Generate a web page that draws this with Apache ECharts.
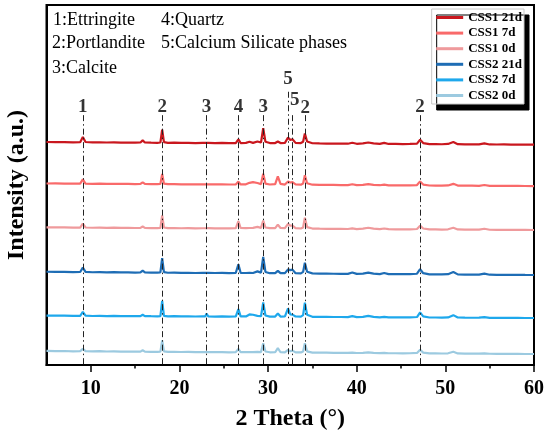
<!DOCTYPE html>
<html>
<head>
<meta charset="utf-8">
<script src="https://cdn.jsdelivr.net/npm/echarts@6/dist/echarts.min.js"></script>
<style>
  html, body { margin: 0; padding: 0; background: #fff; }
  #main { width: 550px; height: 434px; }
</style>
</head>
<body>
<div id="main"></div>
<script>
// 2 theta sampling points shared by every pattern
const twoTheta = [5, 6, 7, 8, 8.8, 9.1, 9.4, 10.2, 11, 11.8,
  12.6, 13.4, 14.2, 15, 15.6, 15.85, 16.1, 16.8, 17.5, 17.85,
  18.05, 18.25, 18.7, 19.4, 20.2, 21, 21.8, 22.6, 22.9, 23.05,
  23.25, 24, 24.8, 25.6, 26.35, 26.65, 26.9, 27.5, 27.9, 28.3,
  28.8, 29.2, 29.45, 29.7, 30.2, 30.8, 31.1, 31.4, 31.9, 32.25,
  32.5, 32.75, 33.1, 33.7, 33.95, 34.15, 34.4, 35, 35.8, 36.6,
  37.4, 38.2, 39, 39.5, 40, 40.7, 41.3, 41.9, 42.6, 43.1,
  43.6, 44.4, 45.2, 46, 46.8, 47.15, 47.5, 48.2, 48.9, 49.6,
  50.3, 50.9, 51.4, 52.2, 53, 53.8, 54.4, 55, 55.8, 56.6,
  57.4, 58.2, 59, 60];

// intensities (a.u.) above each pattern's stacking offset
const css1_21d = [0.75, 0.7, 0.72, 0.65, 0.7, 2.15, 0.75, 0.62, 0.68, 0.6,
  0.65, 0.58, 0.6, 0.55, 0.6, 1.2, 0.6, 0.55, 0.52, 0.6,
  4.2, 0.7, 0.5, 0.55, 0.48, 0.5, 0.45, 0.5, 0.5, 1.05,
  0.5, 0.45, 0.48, 0.42, 0.45, 1.5, 0.45, 0.5, 0.8, 0.5,
  0.9, 0.6, 4.6, 0.8, 0.45, 0.45, 0.9, 0.45, 0.5, 2.0,
  1.3, 1.5, 0.5, 0.45, 0.8, 3.1, 0.9, 0.4, 0.35, 0.32,
  0.3, 0.3, 0.27, 0.55, 0.25, 0.35, 0.6, 0.35, 0.22, 0.5,
  0.2, 0.2, 0.18, 0.2, 0.3, 1.35, 0.45, 0.15, 0.15, 0.12,
  0.2, 0.75, 0.15, 0.1, 0.08, 0.1, 0.35, 0.06, 0.05, 0.06,
  0.03, 0.02, 0.01, 0];
const css1_7d = [0.72, 0.74, 0.7, 0.68, 0.66, 1.85, 0.7, 0.64, 0.66, 0.62,
  0.63, 0.6, 0.62, 0.56, 0.58, 1.05, 0.58, 0.55, 0.54, 0.6,
  3.35, 0.66, 0.52, 0.52, 0.5, 0.48, 0.48, 0.5, 0.47, 0.98,
  0.5, 0.46, 0.45, 0.44, 0.46, 1.25, 0.45, 0.48, 0.9, 1.1,
  0.85, 0.55, 3.4, 0.7, 0.44, 0.55, 2.7, 0.6, 0.42, 1.3,
  1.0, 1.1, 0.45, 0.4, 0.7, 3.0, 0.8, 0.38, 0.35, 0.32,
  0.32, 0.28, 0.28, 0.5, 0.26, 0.34, 0.55, 0.32, 0.24, 0.4,
  0.22, 0.2, 0.2, 0.18, 0.28, 1.3, 0.42, 0.16, 0.14, 0.13,
  0.18, 0.62, 0.14, 0.1, 0.1, 0.08, 0.3, 0.06, 0.06, 0.05,
  0.04, 0.03, 0.02, 0];
const css1_0d = [0.74, 0.72, 0.73, 0.67, 0.68, 1.78, 0.7, 0.63, 0.68, 0.61,
  0.64, 0.6, 0.6, 0.56, 0.6, 0.98, 0.6, 0.54, 0.53, 0.6,
  4.05, 0.7, 0.5, 0.54, 0.49, 0.5, 0.46, 0.49, 0.48, 0.88,
  0.5, 0.46, 0.46, 0.43, 0.48, 2.45, 0.55, 0.5, 0.55, 0.6,
  0.85, 0.6, 2.65, 0.7, 0.5, 0.5, 1.5, 0.55, 0.5, 1.7,
  1.2, 1.2, 0.5, 0.42, 0.7, 3.4, 0.8, 0.4, 0.36, 0.33,
  0.3, 0.3, 0.28, 0.45, 0.26, 0.38, 0.62, 0.36, 0.24, 0.42,
  0.22, 0.2, 0.2, 0.2, 0.28, 1.2, 0.42, 0.15, 0.15, 0.13,
  0.2, 0.62, 0.15, 0.1, 0.09, 0.1, 0.35, 0.07, 0.05, 0.05,
  0.04, 0.02, 0.01, 0];
const css2_21d = [0.9, 0.86, 0.88, 0.8, 0.84, 2.05, 0.86, 0.76, 0.82, 0.74,
  0.78, 0.72, 0.74, 0.68, 0.72, 1.2, 0.72, 0.66, 0.64, 0.7,
  4.65, 0.78, 0.62, 0.66, 0.6, 0.62, 0.56, 0.6, 0.58, 1.08,
  0.6, 0.55, 0.57, 0.52, 0.55, 3.0, 0.6, 0.55, 0.6, 0.55,
  1.0, 0.65, 5.0, 0.85, 0.5, 0.5, 1.15, 0.5, 0.52, 1.55,
  1.35, 1.5, 0.5, 0.46, 0.85, 3.4, 0.9, 0.44, 0.4, 0.38,
  0.35, 0.34, 0.32, 0.7, 0.3, 0.4, 0.65, 0.38, 0.26, 0.55,
  0.24, 0.24, 0.22, 0.24, 0.35, 1.6, 0.5, 0.18, 0.18, 0.15,
  0.22, 0.85, 0.18, 0.12, 0.1, 0.12, 0.38, 0.08, 0.06, 0.07,
  0.04, 0.03, 0.01, 0];
const css2_7d = [0.66, 0.64, 0.66, 0.6, 0.62, 1.7, 0.64, 0.56, 0.62, 0.54,
  0.58, 0.52, 0.56, 0.5, 0.54, 0.92, 0.54, 0.5, 0.48, 0.55,
  4.75, 0.6, 0.45, 0.5, 0.44, 0.46, 0.42, 0.45, 0.44, 1.2,
  0.45, 0.4, 0.43, 0.38, 0.42, 2.5, 0.45, 0.44, 1.0, 0.9,
  0.6, 0.5, 4.3, 0.7, 0.4, 0.4, 1.25, 0.4, 0.45, 2.65,
  1.0, 0.95, 0.42, 0.38, 0.8, 4.25, 0.9, 0.34, 0.32, 0.3,
  0.28, 0.28, 0.25, 0.52, 0.24, 0.32, 0.6, 0.32, 0.2, 0.3,
  0.18, 0.18, 0.16, 0.18, 0.28, 1.55, 0.45, 0.14, 0.14, 0.12,
  0.16, 0.8, 0.14, 0.1, 0.08, 0.09, 0.25, 0.06, 0.05, 0.05,
  0.03, 0.02, 0.01, 0];
const css2_0d = [0.85, 0.82, 0.84, 0.76, 0.8, 1.45, 0.82, 0.72, 0.78, 0.7,
  0.74, 0.68, 0.7, 0.64, 0.68, 1.05, 0.68, 0.62, 0.6, 0.66,
  3.8, 0.72, 0.58, 0.62, 0.56, 0.58, 0.52, 0.56, 0.54, 0.85,
  0.56, 0.52, 0.54, 0.48, 0.52, 1.4, 0.52, 0.5, 0.55, 0.5,
  0.6, 0.55, 3.0, 0.7, 0.48, 0.5, 1.65, 0.5, 0.48, 1.15,
  0.75, 0.95, 0.46, 0.44, 0.7, 3.0, 0.75, 0.4, 0.38, 0.36,
  0.34, 0.33, 0.3, 0.4, 0.28, 0.34, 0.45, 0.34, 0.25, 0.3,
  0.22, 0.22, 0.2, 0.22, 0.3, 1.2, 0.4, 0.17, 0.16, 0.14,
  0.2, 0.62, 0.16, 0.12, 0.1, 0.1, 0.2, 0.07, 0.05, 0.06,
  0.03, 0.02, 0.01, 0];

const names = ["CSS1 21d", "CSS1 7d", "CSS1 0d", "CSS2 21d", "CSS2 7d", "CSS2 0d"];
const patterns = [css1_21d, css1_7d, css1_0d, css2_21d, css2_7d, css2_0d];
const offsets = [61.2, 49.7, 37.5, 25.0, 13.05, 3.05];
const colors = ["#C9171E", "#F96A6A", "#EF9A9C", "#1E6DB5", "#1EA8EC", "#9CCAE0"];

// phase markers
const markerPos = [9.1, 18.05, 23.05, 26.65, 29.45, 32.25, 32.75, 34.15, 47.15];
const markerText = ["1", "2", "3", "4", "3", "5", "5", "2", "2"];
const markerTop = [69.4, 69.4, 69.4, 69.4, 69.4, 75.9, 69.4, 69.4, 69.4];
const markerLabelX = [9.1, 18.05, 23.05, 26.65, 29.45, 32.25, 33.0, 34.2, 47.15];
const markerLabelY = [71.6, 71.6, 71.6, 71.6, 71.6, 79.4, 73.6, 71.3, 71.6];

const phaseNotes = [
  ["1:Ettringite", 53, 20], ["2:Portlandite", 52, 43], ["3:Calcite", 52, 68],
  ["4:Quartz", 161, 20], ["5:Calcium Silicate phases", 161, 43]
];

const serif = "'Liberation Serif', 'Times New Roman', serif";
const chart = echarts.init(document.getElementById("main"));

const series = patterns.map((p, k) => ({
  name: names[k],
  type: "line",
  showSymbol: false,
  symbol: "none",
  color: colors[k],
  lineStyle: { width: 2.2, color: colors[k] },
  data: p.map((v, i) => [twoTheta[i], v + offsets[k]]),
  z: 3
}));

series.push({
  name: "markers",
  type: "line",
  data: [],
  markLine: {
    symbol: "none",
    silent: true,
    label: { show: false },
    lineStyle: { color: "#222", width: 1, type: [6, 3, 1.5, 3] },
    data: markerPos.map((x, i) => [{ coord: [x, markerTop[i]] }, { coord: [x, 0] }])
  }
});

series.push({
  name: "labels",
  type: "scatter",
  symbolSize: 0,
  silent: true,
  data: markerLabelX.map((x, i) => [x, markerLabelY[i], markerText[i]]),
  label: {
    show: true,
    position: "inside",
    formatter: (p) => p.value[2],
    fontFamily: serif,
    fontWeight: "bold",
    fontSize: 19,
    color: "#000"
  }
});

chart.setOption({
  animation: false,
  grid: {
    left: 46.5, right: 16, top: 5, bottom: 69,
    outerBoundsMode: "none",
    containLabel: false,
    show: true, borderColor: "#000", borderWidth: 2
  },
  legend: {
    data: names,
    orient: "vertical",
    right: 26,
    top: 9,
    itemWidth: 27,
    itemHeight: 14,
    itemGap: 2.6,
    padding: [2, 2, 2, 3],
    backgroundColor: "#fff",
    borderColor: "#c8c8c8",
    borderWidth: 1,
    shadowColor: "#000",
    shadowBlur: 0,
    shadowOffsetX: 5,
    shadowOffsetY: 6,
    itemStyle: { opacity: 0 },
    lineStyle: { width: 3 },
    textStyle: { fontFamily: serif, fontWeight: "bold", fontSize: 13, color: "#000" }
  },
  xAxis: [{
    type: "value",
    min: 5,
    max: 60,
    position: "bottom",
    name: "2 Theta (°)",
    nameLocation: "middle",
    nameGap: 42,
    nameTextStyle: { fontFamily: serif, fontWeight: "bold", fontSize: 24, color: "#000" },
    axisLine: { show: true, lineStyle: { color: "#000", width: 2 } },
    axisTick: { show: true, inside: false, length: 7, customValues: [10, 20, 30, 40, 50, 60],
      lineStyle: { color: "#000", width: 1.5 } },
    axisLabel: { customValues: [10, 20, 30, 40, 50, 60], margin: 14,
      fontFamily: serif, fontWeight: "bold", fontSize: 20, color: "#000" },
    splitLine: { show: false }
  }, {
    type: "value",
    min: 5,
    max: 60,
    position: "bottom",
    axisLine: { show: false },
    axisTick: { show: true, inside: false, length: 3.5, customValues: [15, 25, 35, 45, 55],
      lineStyle: { color: "#000", width: 1.5 } },
    axisLabel: { show: false },
    splitLine: { show: false }
  }],
  yAxis: {
    type: "value",
    min: 0,
    max: 100,
    name: "Intensity (a.u.)",
    nameLocation: "middle",
    nameGap: 18,
    nameTextStyle: { fontFamily: serif, fontWeight: "bold", fontSize: 24, color: "#000" },
    axisLine: { show: true, lineStyle: { color: "#000", width: 2 } },
    axisTick: { show: false },
    axisLabel: { show: false },
    splitLine: { show: false }
  },
  graphic: phaseNotes.map(([t, x, y]) => ({
    type: "text",
    x: x,
    y: y,
    silent: true,
    style: { text: t, font: "18px " + serif, fill: "#000", textVerticalAlign: "middle" }
  })),
  series: series
});
</script>
</body>
</html>
